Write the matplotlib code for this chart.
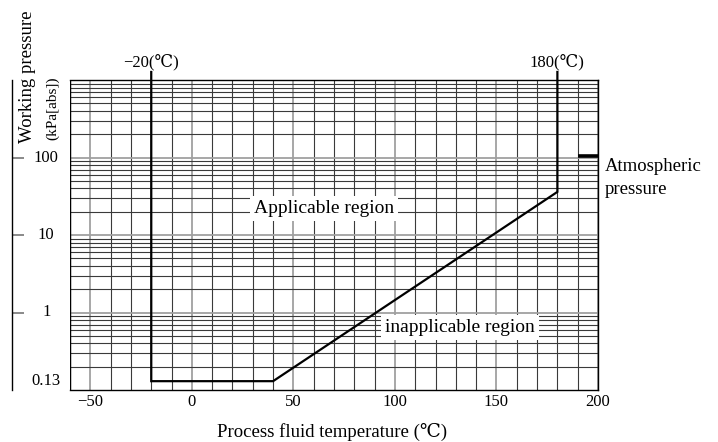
import numpy as np
import matplotlib.pyplot as plt
from matplotlib.ticker import FixedLocator, LogLocator, NullFormatter

# boundary of the applicable region
boundary_temp = [-20, -20, 40, 180, 180]
boundary_pres = [1270, 0.13, 0.13, 36, 1270]

atm_temp = [190, 200]
atm_pres = [105, 105]

x_ticks = [-50, 0, 50, 100, 150, 200]
y_ticks = [1, 10, 100]
y_labels = ['1', '10', '100']

plt.rcParams['font.family'] = ['Liberation Serif', 'DejaVu Serif', 'Noto Sans CJK JP']

fig = plt.figure(figsize=(7.18, 4.42), dpi=100)
ax = fig.add_axes([70 / 718, 1 - 390 / 442, 528 / 718, 310 / 442])

ax.set_yscale('log')
ax.set_xlim(-60, 200)
ax.set_ylim(0.1, 1000)

# grid
ax.xaxis.set_major_locator(FixedLocator(x_ticks))
ax.xaxis.set_minor_locator(FixedLocator(np.arange(-60, 201, 10)))
ax.yaxis.set_major_locator(FixedLocator(y_ticks))
ax.yaxis.set_minor_locator(LogLocator(base=10, subs=np.arange(2, 10)))
ax.yaxis.set_minor_formatter(NullFormatter())
ax.yaxis.set_major_formatter(NullFormatter())
ax.grid(which='major', color='#a0a0a0', linewidth=1.3)
ax.grid(which='minor', color='#3a3a3a', linewidth=0.8)
ax.set_axisbelow(True)

ax.tick_params(axis='x', which='both', length=0, labelsize=12, pad=3)
ax.set_xticklabels([str(t).replace('-', '\u2212') for t in x_ticks])
ax.tick_params(axis='y', which='minor', length=0)
ax.tick_params(axis='y', which='major', direction='in', length=12 * 0.72,
               width=1.3, color='#808080')

for s in ['top', 'right', 'bottom']:
    ax.spines[s].set_linewidth(1.0)
ax.spines['left'].set_position(('outward', 58 * 0.72))
ax.spines['left'].set_linewidth(1.0)
ax.axvline(-60, color='black', linewidth=1.0)

# y tick labels between the offset spine and the grid
for v, lab in zip(y_ticks + [0.13], y_labels + ['0.13']):
    ax.text(-0.045, v, lab, transform=ax.get_yaxis_transform(),
            ha='center', va='center', fontsize=12)

# boundary
ax.plot(boundary_temp, boundary_pres, color='black', linewidth=1.6,
        clip_on=False, solid_joinstyle='miter')
ax.plot(atm_temp, atm_pres, color='black', linewidth=2.6, solid_capstyle='butt')

ax.text(-20, 1700, '\u221220(\u2103)', ha='center', va='center', fontsize=12)
ax.text(180, 1700, '180(\u2103)', ha='center', va='center', fontsize=12)

box = dict(facecolor='white', edgecolor='none', pad=3)
ax.text(65, 22, 'Applicable region', ha='center', va='center', fontsize=14, bbox=box)
ax.text(132, 0.64, 'inapplicable region', ha='center', va='center', fontsize=14, bbox=box)

fig.text(605 / 718, 1 - 158 / 442, 'Atmospheric\npressure', ha='left', va='top',
         fontsize=13.5, linespacing=1.5)

fig.text(28 / 718, 1 - 77 / 442, 'Working pressure', rotation=90,
         ha='center', va='center', fontsize=13.5)
fig.text(53 / 718, 1 - 108 / 442, '(kPa[abs])', rotation=90,
         ha='center', va='center', fontsize=11)
fig.text(332 / 718, 1 - 432 / 442, 'Process fluid temperature (\u2103)',
         ha='center', va='center', fontsize=13.5)

fig.savefig('out.png', dpi=100)
